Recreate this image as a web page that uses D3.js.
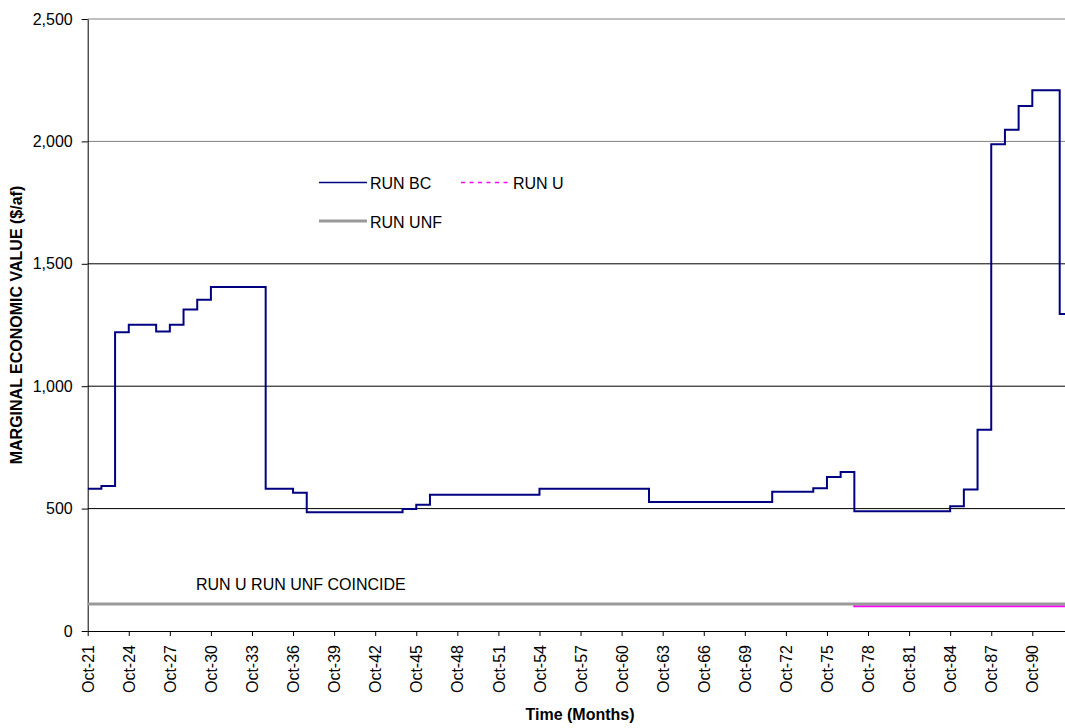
<!DOCTYPE html>
<html>
<head>
<meta charset="utf-8">
<script src="https://cdn.jsdelivr.net/npm/d3@7"></script>
<style>
  html, body { margin: 0; padding: 0; background: #fff; }
  svg { display: block; }
  text { font-family: Arial, "Liberation Sans", sans-serif; fill: #000; }
</style>
</head>
<body>
<svg id="chart" width="1065" height="728"></svg>
<script>
// ---- data (water years starting in October) ----
const years = d3.range(1921, 1993); // Oct-21 .. Oct-92
const runBC = [
  581, 592, 1220, 1251, 1251, 1223, 1251, 1313, 1353, 1405,   // Oct-21..Oct-30
  1405, 1405, 1405, 581, 581, 565, 485, 485, 485, 485,          // Oct-31..Oct-40
  485, 485, 485, 498, 516, 557, 557, 557, 557, 557,             // Oct-41..Oct-50
  557, 557, 557, 581, 581, 581, 581, 581, 581, 581,             // Oct-51..Oct-60
  581, 527, 527, 527, 527, 527, 527, 527, 527, 527,             // Oct-61..Oct-70
  569, 569, 569, 583, 629, 650, 489, 489, 489, 489,             // Oct-71..Oct-80
  489, 489, 489, 510, 578, 822, 1988, 2048, 2145, 2209,         // Oct-81..Oct-90
  2209, 1295                                                    // Oct-91..Oct-92
];
const runU = years.map(yr => yr < 1977 ? 110 : 101);
const runUNF = years.map(() => 110);
const seriesNames = ["RUN BC", "RUN U", "RUN UNF"];
const yTicks = [0, 500, 1000, 1500, 2000, 2500];
const xTickYears = d3.range(1921, 1991, 3);
const xTickLabels = ["Oct-21","Oct-24","Oct-27","Oct-30","Oct-33","Oct-36","Oct-39","Oct-42",
  "Oct-45","Oct-48","Oct-51","Oct-54","Oct-57","Oct-60","Oct-63","Oct-66","Oct-69","Oct-72",
  "Oct-75","Oct-78","Oct-81","Oct-84","Oct-87","Oct-90"];
const domainEnd = 1992.45; // chart is cut at the right window edge

(function () {
  const svg = d3.select("#chart");
  const mLeft = 87.7, mTop = 19, mBottom = 631, mRight = 1065;
  const pxPerYear = 13.69;
  const FS = 16;

  const x = d3.scaleLinear().domain([1921, domainEnd])
    .range([mLeft, mLeft + pxPerYear * (domainEnd - 1921)]);
  const y = d3.scaleLinear().domain([0, 2500]).range([mBottom, mTop]);

  svg.append("defs").append("clipPath").attr("id", "clip")
    .append("rect").attr("x", mLeft).attr("y", 0).attr("width", mRight - mLeft).attr("height", mBottom + 2);

  // gridlines
  svg.append("g").selectAll("line").data(yTicks.filter(d => d > 0)).join("line")
    .attr("x1", mLeft).attr("x2", mRight)
    .attr("y1", d => y(d)).attr("y2", d => y(d))
    .attr("stroke", d => d >= 2000 ? "#808080" : "#000").attr("stroke-width", 1);

  // y axis
  const yAxis = svg.append("g").attr("transform", `translate(${mLeft},0)`)
    .call(d3.axisLeft(y).tickValues(yTicks).tickFormat(d3.format(",")).tickSize(6).tickSizeOuter(0));
  yAxis.select(".domain").attr("stroke", "#000");
  yAxis.selectAll("text").attr("font-size", FS).attr("x", -15)
    .attr("font-family", "Arial, 'Liberation Sans', sans-serif");

  // x axis
  const xAxis = svg.append("g").attr("transform", `translate(0,${mBottom})`)
    .call(d3.axisBottom(x).tickValues(xTickYears).tickFormat((d, i) => xTickLabels[i]).tickSize(5).tickSizeOuter(0));
  xAxis.select(".domain").attr("d", `M${mLeft},0.5H${mRight}`).attr("stroke", "#000");
  xAxis.selectAll("text")
    .attr("font-size", FS)
    .attr("font-family", "Arial, 'Liberation Sans', sans-serif")
    .attr("transform", "rotate(-90)")
    .attr("text-anchor", "end")
    .attr("x", -14).attr("y", 0).attr("dy", "0.35em");

  // lines
  const mk = vals => {
    const pts = years.map((yr, i) => ({ x: yr, v: vals[i] }));
    pts.push({ x: domainEnd, v: vals[vals.length - 1] });
    return pts;
  };
  const line = d3.line().x(d => x(d.x)).y(d => y(d.v)).curve(d3.curveStepAfter);
  const plot = svg.append("g").attr("clip-path", "url(#clip)");
  plot.append("path").datum(mk(runU)).attr("d", line)
    .attr("fill", "none").attr("stroke", "#FF00FF").attr("stroke-width", 2);
  plot.append("path").datum(mk(runUNF)).attr("d", line)
    .attr("fill", "none").attr("stroke", "#999999").attr("stroke-width", 3);
  plot.append("path").datum(mk(runBC)).attr("d", line)
    .attr("fill", "none").attr("stroke", "#000080").attr("stroke-width", 2);

  // legend
  const lg = svg.append("g");
  lg.append("line").attr("x1", 319).attr("x2", 367).attr("y1", 182.5).attr("y2", 182.5)
    .attr("stroke", "#000080").attr("stroke-width", 1.5);
  lg.append("text").attr("x", 370).attr("y", 189).attr("font-size", FS).text(seriesNames[0]);
  lg.append("line").attr("x1", 461).attr("x2", 511).attr("y1", 182.5).attr("y2", 182.5)
    .attr("stroke", "#FF00FF").attr("stroke-width", 1.5).attr("stroke-dasharray", "4,4.5");
  lg.append("text").attr("x", 513).attr("y", 189).attr("font-size", FS).text(seriesNames[1]);
  lg.append("line").attr("x1", 319).attr("x2", 367).attr("y1", 221).attr("y2", 221)
    .attr("stroke", "#999999").attr("stroke-width", 3);
  lg.append("text").attr("x", 370).attr("y", 228).attr("font-size", FS).text(seriesNames[2]);

  // annotation
  svg.append("text").attr("x", 196).attr("y", 590).attr("font-size", FS).text("RUN U RUN UNF COINCIDE");

  // axis titles
  svg.append("text").attr("transform", `translate(22,${(mTop + mBottom) / 2}) rotate(-90)`)
    .attr("text-anchor", "middle").attr("font-size", FS).attr("font-weight", "bold")
    .text("MARGINAL ECONOMIC VALUE ($/af)");
  svg.append("text").attr("x", 580).attr("y", 720).attr("text-anchor", "middle")
    .attr("font-size", FS).attr("font-weight", "bold").text("Time (Months)");
})();
</script>
</body>
</html>
